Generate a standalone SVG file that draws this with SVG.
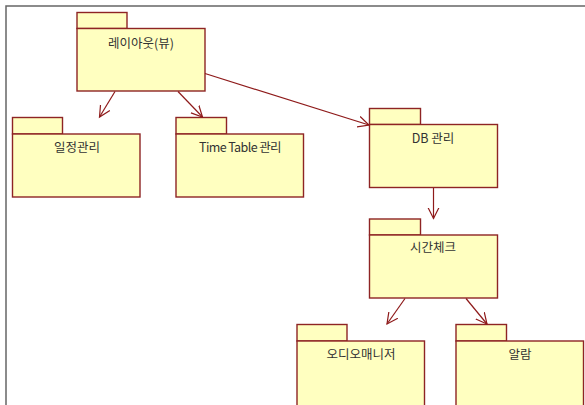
<svg xmlns="http://www.w3.org/2000/svg" width="585" height="405" viewBox="0 0 585 405">
<style>
.pk{fill:#FFFFC0;stroke:#8E2424;stroke-width:1.4}
.lbl{font-family:"Noto Sans CJK KR","Noto Sans",sans-serif;font-size:12.5px;fill:#333;text-anchor:middle}
.cn{stroke:#8E1A1A;stroke-width:1.2;fill:none;marker-end:url(#ah)}
</style>
<defs>
<marker id="ah" markerUnits="userSpaceOnUse" markerWidth="14" markerHeight="14" refX="11" refY="6" orient="auto" viewBox="0 0 14 12">
<path d="M0,0.5 L11,6 L0,11.5" fill="none" stroke="#8E1A1A" stroke-width="1.2"/>
</marker>
</defs>
<rect width="585" height="405" fill="#fff"/>
<polyline points="6,405 6,6 585,6" fill="none" stroke="#666" stroke-width="1.5"/>
<g id="layout">
<rect class="pk" x="77" y="12.5" width="50" height="16"/>
<rect class="pk" x="77" y="28.5" width="128" height="62.5"/>
<text class="lbl" x="141" y="48">레이아웃(뷰)</text>
</g>
<g id="schedule">
<rect class="pk" x="12.5" y="117.5" width="50" height="16.5"/>
<rect class="pk" x="12.5" y="134" width="127.5" height="63"/>
<text class="lbl" x="77" y="152">일정관리</text>
</g>
<g id="timetable">
<rect class="pk" x="176" y="117.5" width="50.5" height="16.5"/>
<rect class="pk" x="176" y="134" width="127.5" height="63"/>
<text class="lbl" x="240" y="152" letter-spacing="-0.6">Time Table 관리</text>
</g>
<g id="db">
<rect class="pk" x="369.5" y="108.5" width="51" height="16"/>
<rect class="pk" x="369.5" y="124.5" width="128" height="63"/>
<text class="lbl" x="433" y="143">DB 관리</text>
</g>
<g id="timecheck">
<rect class="pk" x="369.5" y="219" width="51" height="16"/>
<rect class="pk" x="369.5" y="235" width="128" height="63"/>
<text class="lbl" x="433" y="252">시간체크</text>
</g>
<g id="audio">
<rect class="pk" x="297" y="324.5" width="50" height="16.5"/>
<rect class="pk" x="297" y="341" width="127.5" height="70"/>
<text class="lbl" x="361" y="359">오디오매니저</text>
</g>
<g id="alarm">
<rect class="pk" x="456" y="324.5" width="50.5" height="16.5"/>
<rect class="pk" x="456" y="341" width="127.5" height="70"/>
<text class="lbl" x="520" y="359">알람</text>
</g>
<g id="connectors">
<line class="cn" x1="115" y1="91.5" x2="99.5" y2="117"/>
<line class="cn" x1="178" y1="91.5" x2="202.5" y2="117"/>
<line class="cn" x1="205" y1="73.5" x2="369" y2="125"/>
<line class="cn" x1="433.5" y1="188" x2="433.5" y2="218.5"/>
<line class="cn" x1="405" y1="298.5" x2="387" y2="324"/>
<line class="cn" x1="466" y1="298.5" x2="487" y2="324"/>
</g>
</svg>
